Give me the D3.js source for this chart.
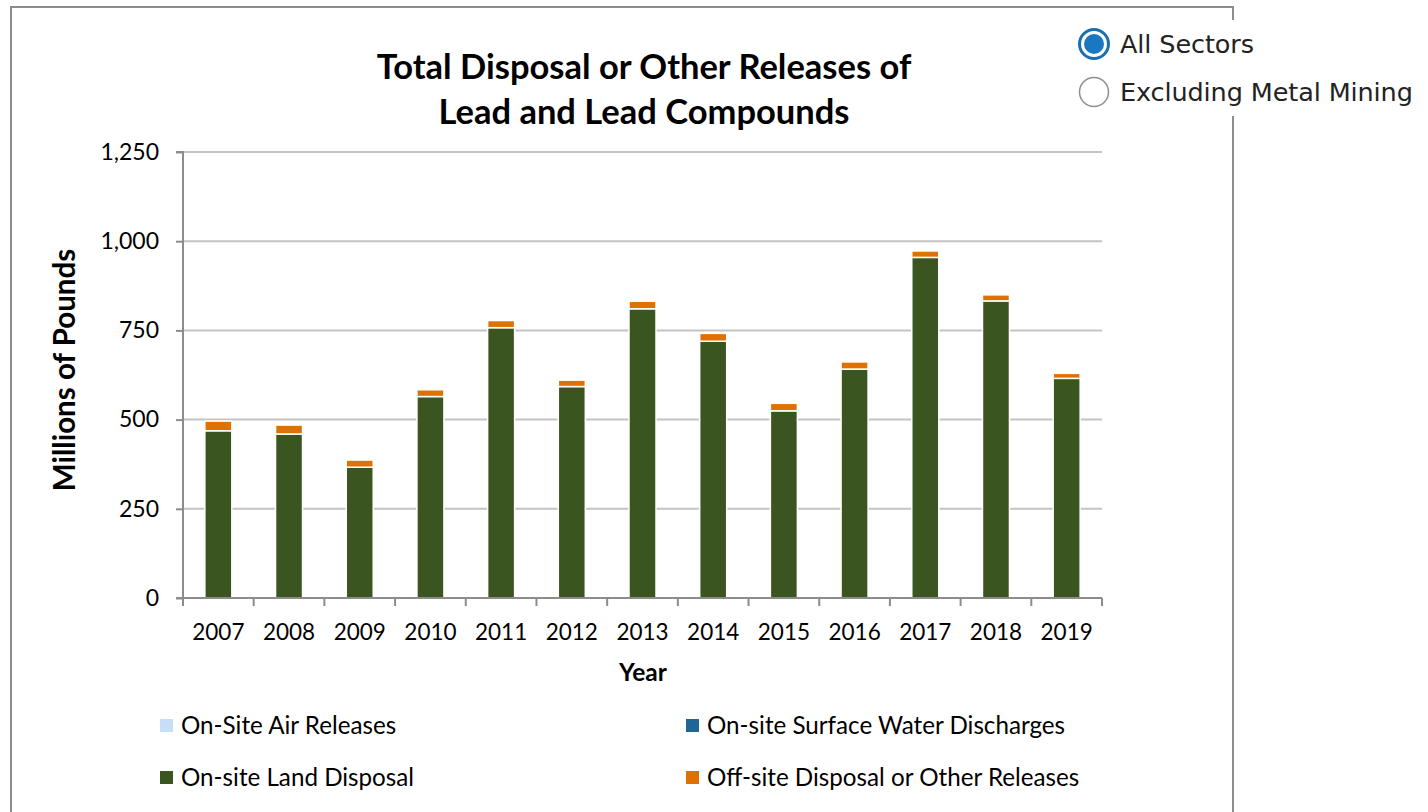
<!DOCTYPE html>
<html><head><meta charset="utf-8">
<script src="https://cdn.jsdelivr.net/npm/d3@7"></script>
<style>body{margin:0;background:#fff}svg{display:block}</style>
</head><body>
<svg id="c" width="1428" height="812"></svg>
<script>
const years = ["2007","2008","2009","2010","2011","2012","2013","2014","2015","2016","2017","2018","2019"];
const airReleases   = [0.5,0.5,0.4,0.4,0.4,0.4,0.4,0.4,0.4,0.4,0.4,0.4,0.4];
const waterDischarges = [0.2,0.2,0.2,0.2,0.2,0.2,0.2,0.2,0.2,0.2,0.2,0.2,0.2];
const landDisposal  = [468,459,366,564,757,592,810,719,524,641,954,832,615];
const offsiteReleases = [27,25,20,19,20,18,21,22,21,20,18,17,14];
const seriesNames = ["On-Site Air Releases","On-site Surface Water Discharges","On-site Land Disposal","Off-site Disposal or Other Releases"];
const seriesColors = ["#c6dff7","#1f6696","#3a5520","#e07000"];
const yTicks = [0,250,500,750,1000,1250];
const titleLines = ["Total Disposal or Other Releases of","Lead and Lead Compounds"];
const radioLabels = ["All Sectors","Excluding Metal Mining"];

const svg = d3.select("#c");
const font = "Lato, 'Open Sans', sans-serif";
const M = {l:183, r:1102, t:152, b:598};

// outer frame
svg.append("path").attr("d","M11,812 V7 H1233 V20 M1233,116 V812").attr("fill","none").attr("stroke","#8c8c8c").attr("stroke-width",2);

const x = d3.scaleBand().domain(years).range([M.l,M.r]).paddingInner(0).paddingOuter(0);
const y = d3.scaleLinear().domain([0,1250]).range([M.b,M.t]);

// gridlines
svg.append("g").selectAll("line").data(yTicks.filter(d=>d>0)).join("line")
 .attr("x1",M.l).attr("x2",M.r).attr("y1",d=>y(d)).attr("y2",d=>y(d))
 .attr("stroke","#c3c3c3").attr("stroke-width",2);

// stacked bars
const rows = years.map((yr,i)=>({year:yr,s0:airReleases[i],s1:waterDischarges[i],s2:landDisposal[i],s3:offsiteReleases[i]}));
const stack = d3.stack().keys(["s0","s1","s2","s3"])(rows);
const bw = 27;
const g = svg.append("g");
stack.forEach((layer,k)=>{
  g.append("g").selectAll("rect").data(layer).join("rect")
   .attr("x",d=>x(d.data.year)+x.bandwidth()/2-bw/2)
   .attr("width",bw)
   .attr("y",d=>y(d[1]))
   .attr("height",d=>Math.max(0,y(d[0])-y(d[1])))
   .attr("fill",seriesColors[k])
   .attr("stroke",k>=2?"#fff":"none").attr("stroke-width",1.5);
});

// y axis
const ya = svg.append("g").attr("transform",`translate(${M.l},0)`)
 .call(d3.axisLeft(y).tickValues(yTicks).tickSize(7).tickPadding(17).tickFormat(d3.format(",")));
ya.select(".domain").attr("stroke","#8c8c8c").attr("stroke-width",2).attr("d",`M-7,${M.t}H0V${M.b}H-7`);
ya.selectAll(".tick line").attr("stroke","#8c8c8c").attr("stroke-width",2);
ya.selectAll("text").attr("font-family",font).attr("font-size",23).attr("fill","#000");

// x axis
const xa = svg.append("g").attr("transform",`translate(0,${M.b})`)
 .call(d3.axisBottom(x).tickSize(0).tickPadding(26));
xa.select(".domain").attr("stroke","#8c8c8c").attr("stroke-width",2).attr("d",`M${M.l},0H${M.r}`);
xa.selectAll("text").attr("font-family",font).attr("font-size",22.5).attr("fill","#000");
svg.append("g").selectAll("line").data(years.concat(["end"])).join("line")
 .attr("x1",(d,i)=>M.l+i*x.step()).attr("x2",(d,i)=>M.l+i*x.step())
 .attr("y1",M.b).attr("y2",M.b+8).attr("stroke","#8c8c8c").attr("stroke-width",2);

// titles
svg.append("text").attr("font-family",font).attr("font-weight","bold").attr("font-size",34.5)
 .attr("text-anchor","middle").selectAll("tspan").data(titleLines).join("tspan")
 .attr("x",644).attr("y",(d,i)=>79+i*45).text(d=>d);
svg.append("text").attr("x",643).attr("y",681).attr("text-anchor","middle")
 .attr("font-family",font).attr("font-weight","bold").attr("font-size",24.5).text("Year");
svg.append("text").attr("transform","translate(75,370) rotate(-90)").attr("text-anchor","middle")
 .attr("font-family",font).attr("font-weight","bold").attr("font-size",29.5).text("Millions of Pounds");

// legend
const legPos = [[160,719],[686,719],[160,771],[686,771]];
const lg = svg.append("g").selectAll("g").data(seriesNames).join("g")
 .attr("transform",(d,i)=>`translate(${legPos[i][0]},${legPos[i][1]})`);
lg.append("rect").attr("width",13).attr("height",13).attr("fill",(d,i)=>seriesColors[i]);
lg.append("text").attr("x",21).attr("y",15).attr("font-family",font).attr("font-size",24.2).text(d=>d);

// radio buttons
const rg = svg.append("g").selectAll("g").data(radioLabels).join("g")
 .attr("transform",(d,i)=>`translate(1094,${44+i*48})`);
rg.append("rect").attr("x",-22).attr("y",-24).attr("width",340).attr("height",48).attr("fill","#fff");
rg.append("circle").attr("r",14.5).attr("fill","#fff").attr("stroke",(d,i)=>i===0?"#1a6fb0":"#8f8f8f").attr("stroke-width",(d,i)=>i===0?3:1.5);
rg.filter((d,i)=>i===0).append("circle").attr("r",10).attr("fill","#1a78c2");
rg.append("text").attr("x",26).attr("y",9).attr("font-family","'DejaVu Sans', Tahoma, sans-serif").attr("font-size",25.5).attr("letter-spacing",-0.1).attr("fill","#222").text(d=>d);
</script>
</body></html>
